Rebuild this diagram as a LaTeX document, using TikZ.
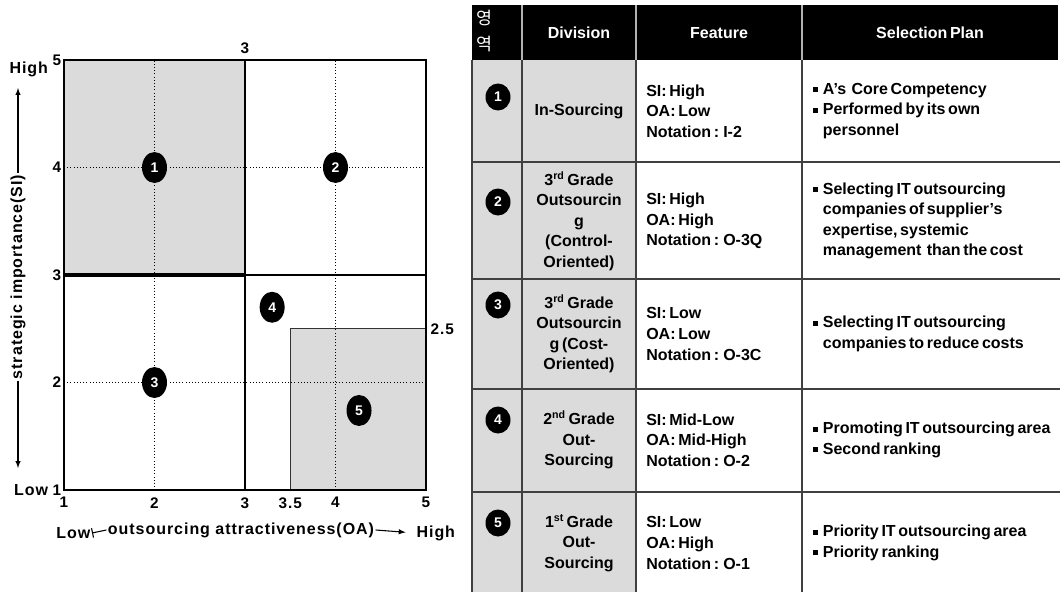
\documentclass[tikz,border=0pt]{standalone}
\usepackage{fontspec}
\setmainfont[WordSpace = 0.6]{Liberation Sans}
\newfontfamily\axisfont[LetterSpace = 6]{Liberation Sans}
\newfontfamily\kofont{Noto Sans CJK KR}
\usetikzlibrary{shapes.geometric}
\newcommand\sqb{\rule[0.25ex]{0.3em}{0.3em}\hspace{0.3em}}
\newcommand\sqbgap{\hspace{0.6em}}
\tikzset{
	spot/.style = {ellipse, fill = black, text = white, inner sep = 0pt, minimum width = 18.75pt, minimum height = 23.25pt, font = \bfseries\fontsize{10.5}{11}\selectfont},
	tabspot/.style = {spot, minimum height = 20.25pt},
	ticknum/.style = {font = \axisfont\bfseries\fontsize{11.5}{13}\selectfont},
	axislabel/.style = {font = \axisfont\bfseries\fontsize{12}{14}\selectfont, inner sep = 1pt},
	headtext/.style = {text = white, font = \bfseries\fontsize{12}{13}\selectfont},
	divcell/.style = {font = \bfseries\fontsize{12}{15.4}\selectfont, align = center, inner sep = 0pt},
	featcell/.style = {font = \bfseries\fontsize{12}{15.4}\selectfont, align = left, anchor = west, inner sep = 0pt}
}

\begin{document}
\begin{tikzpicture}[x = 0.75pt, y = -0.75pt]
\useasboundingbox (0,0) rectangle (1060,592);

\begin{scope}[shift = {(-26.5,597.5)}, xscale = 90.5, yscale = -107.5]
\fill[black!14] (1,3) rectangle (3,5);
\filldraw[fill = black!14, draw = black!80, line width = 1pt] (3.5,1) rectangle (5,2.5);
\foreach \v in {2,4}
{
	\draw[dotted, thin] (\v,1) -- (\v,5);
	\draw[dotted, thin] (1,\v) -- (5,\v);
}
\draw[line width = 1.5pt] (1,1) rectangle (5,5);
\draw[line width = 1.5pt] (3,1) -- (3,5) (3,3) -- (5,3);
\draw[line width = 2.4pt] (1,3) -- (3,3);
\foreach \n/\x/\y in {1/2/4, 2/4/4, 3/2/2, 4/3.3/2.7, 5/4.26/1.74}
	\node[spot] (c\n) at (\x,\y) {\n};
\foreach \x [count = \i] in {1,2,3,3.5,4,5}
	\node[ticknum, below = 2pt] (xt\i) at (\x,1) {\x};
\foreach \y in {1,2,3,4,5}
	\node[ticknum, left, inner sep = 2pt] (yt\y) at (1,\y) {\y};
\node[ticknum, above = 1pt] (top3) at (3,5) {3};
\node[ticknum, right] (right25) at (5,2.5) {2.5};
\end{scope}

\node[axislabel, anchor = north east] (high-si) at (yt5.west) {High};
\node[axislabel, anchor = east] (low-si) at (yt1.west) {Low};
\node[axislabel, rotate = 90] (si) at (18,277) {strategic importance(SI)};
\coordinate (si-up) at (18,88);
\coordinate (si-down) at (18,468);
\draw[-latex, thick] (si.east) -- (si-up);
\draw[-latex, thick] (si.west) -- (si-down);

\node[axislabel] (oa) at (241,530) {outsourcing attractiveness(OA)};
\node[axislabel, anchor = east] (low-oa) at (92,533) {Low};
\node[axislabel, anchor = west] (high-oa) at (415,533) {High};
\draw[|-, thick] (low-oa.east) -- (oa.west);
\draw[-latex, thick, shorten > = 7pt] (oa.east) -- (high-oa.west);

\fill[black!14] (472,60) rectangle (636,592);
\fill[black] (472,5) rectangle (1058,60);
\foreach \x in {522,636,802}
	\draw[black!30, line width = 0.8pt] (\x,5) -- (\x,60);
\foreach \x in {472,522,636,802}
	\draw[black!75, line width = 1.1pt] (\x,60) -- (\x,592);
\foreach \y in {162,279,389,492}
	\draw[black!75, line width = 1.1pt] (472,\y) -- (1060,\y);

\node[text = white, align = center, font = \kofont\fontsize{13}{20}\selectfont, inner sep = 0pt] (harea) at (484,31) {영\\역};
\node[headtext] (hdiv) at (579,33) {Division};
\node[headtext] (hfeat) at (719,33) {Feature};
\node[headtext] (hplan) at (930,33) {Selection Plan};

\foreach \r/\y/\cy/\dv/\ft/\pl in {
	1/111/97/{In-Sourcing}/{SI: High\\OA: Low\\Notation : I-2}/{\sqb A’s\ \ Core Competency\\\sqb Performed by its own\\\sqbgap personnel},
	2/221/202/{3\textsuperscript{rd} Grade\\Outsourcin\\g\\(Control-\\Oriented)}/{SI: High\\OA: High\\Notation : O-3Q}/{\sqb Selecting IT outsourcing\\\sqbgap companies of supplier’s\\\sqbgap expertise, systemic\\\sqbgap management\ \ than the cost},
	3/334/305/{3\textsuperscript{rd} Grade\\Outsourcin\\g (Cost-\\Oriented)}/{SI: Low\\OA: Low\\Notation : O-3C}/{\sqb Selecting IT outsourcing\\\sqbgap companies to reduce costs},
	4/440/420/{2\textsuperscript{nd} Grade\\Out-\\Sourcing}/{SI: Mid-Low\\OA: Mid-High\\Notation : O-2}/{\sqb Promoting IT outsourcing area\\\sqb Second ranking},
	5/543/523/{1\textsuperscript{st} Grade\\Out-\\Sourcing}/{SI: Low\\OA: High\\Notation : O-1}/{\sqb Priority IT outsourcing area\\\sqb Priority ranking}}
{
	\node[tabspot] (n\r) at (498,\cy) {\r};
	\node[divcell] (d\r) at (579,\y) {\dv};
	\node[featcell] (f\r) at (646,\y) {\ft};
	\node[featcell] (p\r) at (813,\y) {\pl};
}
\end{tikzpicture}
\end{document}
